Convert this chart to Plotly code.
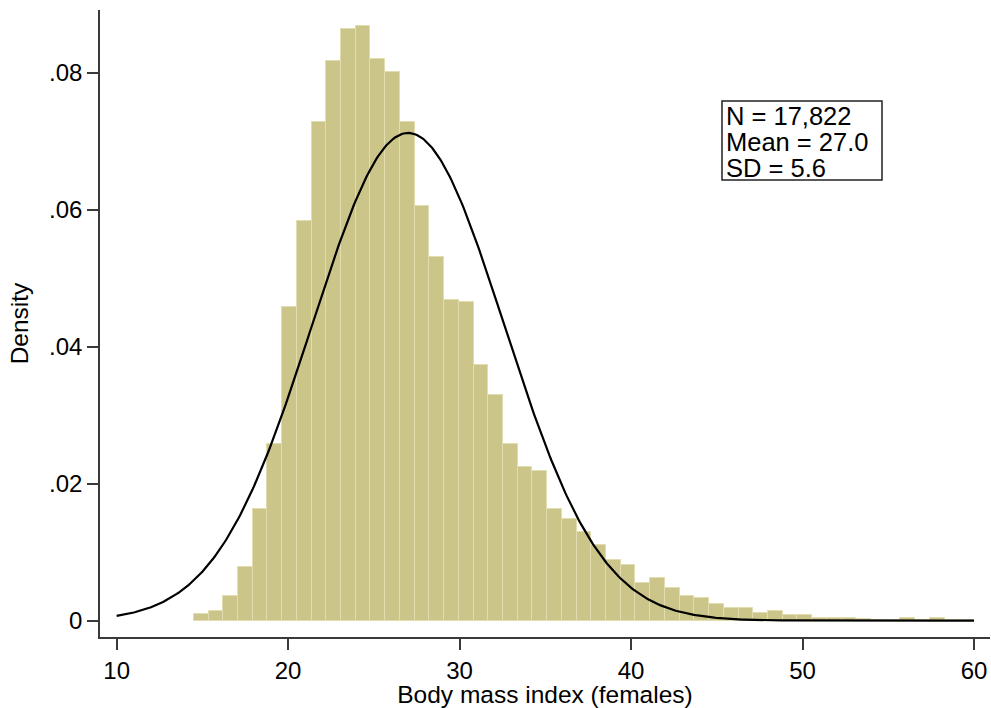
import numpy as np
import plotly.graph_objects as go

# ---- data ----
BIN_START = 14.5
BIN_WIDTH = 0.8585
density = [
    0.0010, 0.0014, 0.0036, 0.0079, 0.0163, 0.0258, 0.0458, 0.0584, 0.0729, 0.0818,
    0.0864, 0.0869, 0.0820, 0.0801, 0.0729, 0.0605, 0.0531, 0.0469, 0.0465, 0.0374,
    0.0330, 0.0258, 0.0224, 0.0219, 0.0163, 0.0149, 0.0130, 0.0110, 0.0088, 0.0081,
    0.0055, 0.0063, 0.0048, 0.0036, 0.0033, 0.0025, 0.0019, 0.0019, 0.0011, 0.0014,
    0.0008, 0.0008, 0.0004, 0.0004, 0.0004, 0.0003, 0.0001, 0.0001, 0.0004, 0.0001,
    0.0004, 0.0001, 0.0001,
]
N_OBS = "17,822"
MEAN = 27.0
SD = 5.6
x_ticks = [10, 20, 30, 40, 50, 60]
y_ticks = [0, 0.02, 0.04, 0.06, 0.08]
y_tick_labels = ["0", ".02", ".04", ".06", ".08"]
stats_lines = [f"N = {N_OBS}", f"Mean = {MEAN:.1f}", f"SD = {SD:.1f}"]

centers = [BIN_START + (i + 0.5) * BIN_WIDTH for i in range(len(density))]

# normal density overlay defined by the displayed mean and SD
cx = np.linspace(10, 60, 500)
cy = np.exp(-0.5 * ((cx - MEAN) / SD) ** 2) / (SD * np.sqrt(2 * np.pi))

FONT = "Liberation Sans, Arial, Helvetica, sans-serif"

fig = go.Figure()
fig.add_trace(go.Bar(
    x=centers, y=density, width=BIN_WIDTH,
    marker=dict(color="#CBC58A", line=dict(color="#E2DDB0", width=1)),
    showlegend=False, hoverinfo="x+y",
))
fig.add_trace(go.Scatter(
    x=cx, y=cy, mode="lines",
    line=dict(color="black", width=2.2),
    showlegend=False,
))

axis_common = dict(
    showline=True, linecolor="#3a3a3a", linewidth=1.5,
    ticks="outside", ticklen=11, tickcolor="#3a3a3a", tickwidth=1.5,
    showgrid=False, zeroline=False, mirror=False, automargin=False,
    tickfont=dict(family=FONT, size=24, color="black"),
)

fig.update_layout(
    width=991, height=708,
    margin=dict(l=100, r=1, t=10, b=71),
    paper_bgcolor="white", plot_bgcolor="white",
    bargap=0,
    font=dict(family=FONT, color="black"),
    xaxis=dict(
        range=[9.03, 60.93], tickvals=x_ticks,
        title=dict(text="Body mass index (females)", font=dict(family=FONT, size=24.5), standoff=2),
        **axis_common,
    ),
    yaxis=dict(
        range=[-0.00238, 0.0892], tickvals=y_ticks, ticktext=y_tick_labels,
        title=dict(text="Density", font=dict(family=FONT, size=24.5), standoff=14),
        **axis_common,
    ),
)

# stats box
bx0, bx1 = (722 - 100) / 890, (882 - 100) / 890
by1, by0 = (637 - 101) / 627, (637 - 180) / 627
fig.add_shape(type="rect", xref="paper", yref="paper",
              x0=bx0, x1=bx1, y0=by0, y1=by1,
              line=dict(color="#222222", width=1.5), fillcolor="rgba(0,0,0,0)")
for i, line in enumerate(stats_lines):
    ytop = 101 + i * 26
    fig.add_annotation(
        xref="paper", yref="paper", x=bx0 + 3 / 890, y=(637 - ytop) / 627,
        xanchor="left", yanchor="top", text=line, showarrow=False,
        font=dict(family=FONT, size=25.5, color="black"), borderpad=0,
    )

fig.write_html(
    "out.html",
    config={"displayModeBar": False},
    post_script="document.body.style.margin='0';document.body.style.overflow='hidden';",
)
